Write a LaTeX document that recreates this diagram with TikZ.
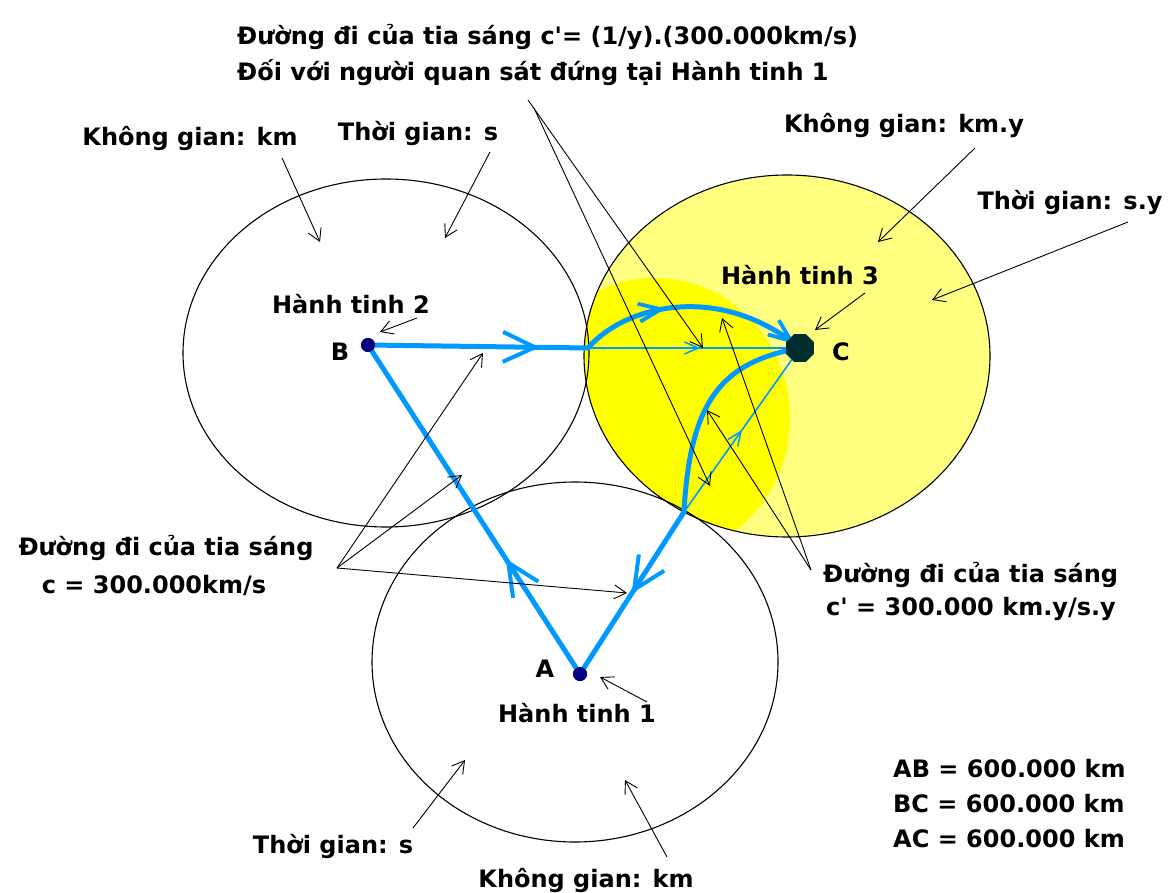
\documentclass[tikz,border=0pt]{standalone}
\usepackage{fontspec}
\setmainfont{DejaVu Sans}
\usetikzlibrary{arrows.meta,decorations.markings,shapes.geometric}
\definecolor{ray}{RGB}{0,153,255}
\definecolor{lightyel}{RGB}{255,255,128}
\definecolor{brightyel}{RGB}{255,255,0}
\definecolor{planet}{RGB}{0,0,128}
\definecolor{planetc}{RGB}{0,45,45}
\tikzset{
  lbl/.style={font=\fontsize{24}{28}\selectfont\bfseries, inner sep=0pt, anchor=base},
  orbit/.style={draw=black, line width=1.1pt},
  ann/.style={draw=black, line width=0.9pt, -{Straight Barb[length=12pt,width=14pt]}},
  rayline/.style={color=ray, line width=5pt, line cap=round, line join=round},
  thinray/.style={color=ray, line width=1.6pt},
  bigtip/.style={postaction={decorate}, decoration={markings, mark=at position #1 with {\arrow{Straight Barb[length=32pt,width=30pt,line width=4pt]}}}},
  midtip/.style={postaction={decorate}, decoration={markings, mark=at position #1 with {\arrow{Straight Barb[length=22pt,width=18pt,line width=3.5pt]}}}},
  smalltip/.style={postaction={decorate}, decoration={markings, mark=at position #1 with {\arrow{Straight Barb[length=14pt,width=12pt,line width=1.5pt]}}}},
  dot/.style={circle, fill=planet, minimum size=14pt, inner sep=0pt}
}
\begin{document}
\begin{tikzpicture}[x=1pt,y=-1pt]
\useasboundingbox (0,0) rectangle (1170,893);
\fill[white] (0,0) rectangle (1170,893);
% yellow sphere C
\fill[lightyel] (787,356) ellipse [x radius=203pt, y radius=181pt];
\begin{scope}
  \clip (787,356) ellipse [x radius=203pt, y radius=181pt];
  \fill[brightyel] (655,418) ellipse [x radius=135pt, y radius=140pt];
\end{scope}
% orbits
\draw[orbit] (386,353) ellipse [x radius=203pt, y radius=174pt];
\draw[orbit] (787,356) ellipse [x radius=203pt, y radius=181pt];
\draw[orbit] (575,662) ellipse [x radius=203pt, y radius=180pt];

% planets
\node[dot] (B) at (368,345) {};
\node[dot] (A) at (580,674) {};
\node[regular polygon, regular polygon sides=8, fill=planetc, minimum size=30pt, inner sep=0pt] (C) at (800,348) {};
\coordinate (bc) at (588,348);
\coordinate (ca) at (684,512);

% light rays
\draw[thinray, smalltip=0.53] (bc) -- (C.center);
\draw[thinray, smalltip=0.5] (ca) -- (C.center);
\draw[rayline, bigtip=0.35] (A.center) -- (B.center);
\draw[rayline, bigtip=0.78] (B.center) -- (bc);
\draw[rayline, midtip=0.38, midtip=0.97] (bc) .. controls (625,305) and (720,282) .. (C.center);
\draw[rayline, bigtip=0.77] (C.center) .. controls (722,362) and (690,400) .. (ca) -- (A.center);

% redraw planets on top
\node[dot] at (B) {};
\node[dot] at (A) {};
\node[regular polygon, regular polygon sides=8, fill=planetc, minimum size=30pt, inner sep=0pt] at (C) {};

% labels
\node[lbl, anchor=base west] (t1) at (237,45) {Đường đi của tia sáng c\textquotesingle= (1/y).(300.000km/s)};
\node[lbl, anchor=base west] (t2) at (237,81) {Đối với người quan sát đứng tại Hành tinh 1};
\node[lbl] (kg1) at (190,146) {Không gian: km};
\node[lbl] (tg1) at (418,141) {Thời gian: s};
\node[lbl] (ht2) at (351,313) {Hành tinh 2};
\node[lbl] (lB) at (340,360) {B};
\node[lbl] (ht3) at (800,285) {Hành tinh 3};
\node[lbl] (lC) at (841,360) {C};
\node[lbl] (kg3) at (904,133) {Không gian: km.y};
\node[lbl] (tg3) at (1070,210) {Thời gian: s.y};
\node[lbl] (lc1) at (166,555) {Đường đi của tia sáng};
\node[lbl] (lc2) at (154,593) {c = 300.000km/s};
\node[lbl, anchor=base west] (rc1) at (823,582) {Đường đi của tia sáng};
\node[lbl, anchor=base west] (rc2) at (826,615) {c\textquotesingle{} = 300.000 km.y/s.y};
\node[lbl] (lA) at (545,677) {A};
\node[lbl] (ht1) at (577,722) {Hành tinh 1};
\node[lbl] (tg2) at (333,853) {Thời gian: s};
\node[lbl] (kg2) at (586,887) {Không gian: km};
\node[lbl, anchor=base west] (d1) at (893,777) {AB = 600.000 km};
\node[lbl, anchor=base west] (d2) at (893,812) {BC = 600.000 km};
\node[lbl, anchor=base west] (d3) at (893,847) {AC = 600.000 km};

% annotation arrows
\coordinate (t1s) at (528,100);
\coordinate (t2s) at (534,108);
\coordinate (t1e) at (703,348);
\coordinate (t2e) at (710,486);
\draw[ann] (t1s) -- (t1e);
\draw[ann] (t2s) -- (t2e);

\coordinate (ls) at (337,568);
\coordinate (le1) at (483,353);
\coordinate (le2) at (462,475);
\coordinate (le3) at (627,593);
\draw[ann] (ls) -- (le1);
\draw[ann] (ls) -- (le2);
\draw[ann] (ls) -- (le3);

\coordinate (rs) at (811,570);
\coordinate (re1) at (707,410);
\coordinate (re2) at (722,318);
\draw[ann] (rs) -- (re1);
\draw[ann] (rs) -- (re2);

\coordinate (kg1s) at (282,158); \coordinate (kg1e) at (320,242);
\draw[ann] (kg1s) -- (kg1e);
\coordinate (tg1s) at (490,152); \coordinate (tg1e) at (445,238);
\draw[ann] (tg1s) -- (tg1e);
\coordinate (ht2s) at (417,318); \coordinate (ht2e) at (380,332);
\draw[ann] (ht2s) -- (ht2e);
\coordinate (ht3s) at (865,293); \coordinate (ht3e) at (815,330);
\draw[ann] (ht3s) -- (ht3e);
\coordinate (kg3s) at (975,148); \coordinate (kg3e) at (878,242);
\draw[ann] (kg3s) -- (kg3e);
\coordinate (tg3s) at (1128,222); \coordinate (tg3e) at (932,300);
\draw[ann] (tg3s) -- (tg3e);
\coordinate (ht1s) at (647,702); \coordinate (ht1e) at (600,677);
\draw[ann] (ht1s) -- (ht1e);
\coordinate (tg2s) at (413,828); \coordinate (tg2e) at (465,760);
\draw[ann] (tg2s) -- (tg2e);
\coordinate (kg2s) at (667,857); \coordinate (kg2e) at (625,780);
\draw[ann] (kg2s) -- (kg2e);
\end{tikzpicture}
\end{document}
